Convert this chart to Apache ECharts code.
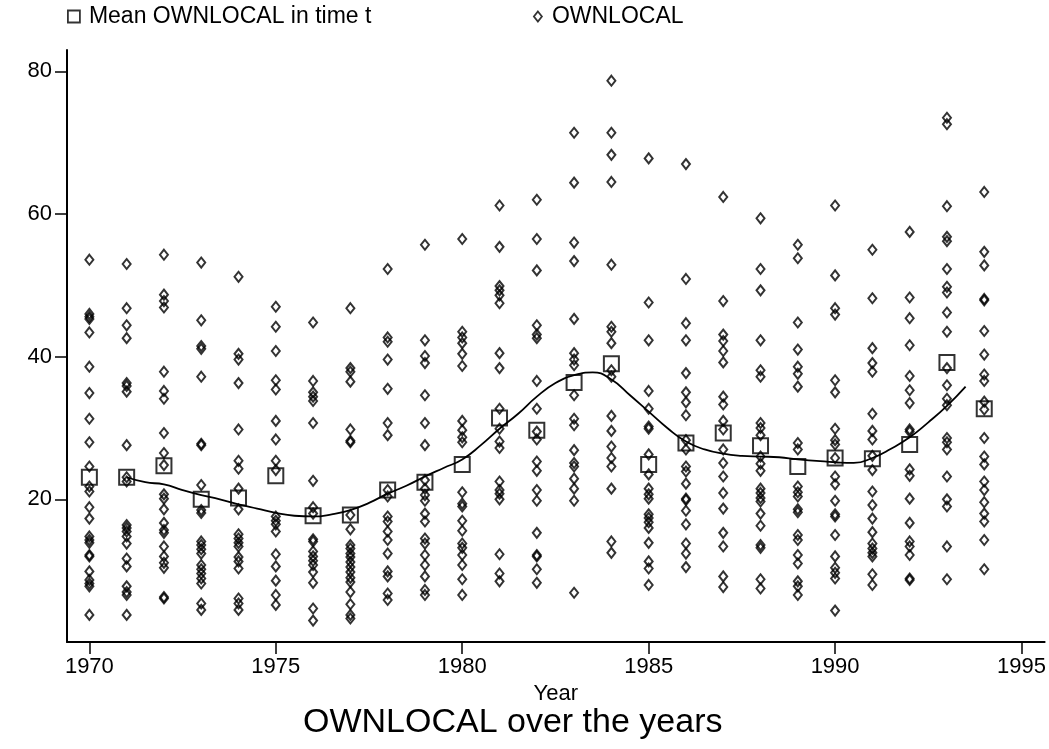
<!DOCTYPE html>
<html>
<head>
<meta charset="utf-8">
<script src="https://cdn.jsdelivr.net/npm/echarts@6/dist/echarts.min.js"></script>
<style>
html,body{margin:0;padding:0;background:#fff;}
#c{width:1049px;height:749px;}
</style>
</head>
<body>
<div id="c"></div>
<script>
// ---- data ----
const years = [1970,1971,1972,1973,1974,1975,1976,1977,1978,1979,1980,1981,1982,1983,1984,1985,1986,1987,1988,1989,1990,1991,1992,1993,1994];
const xTicks = [1970,1975,1980,1985,1990,1995];
const yTicks = [20,40,60,80];

const meanOwnlocal = [23.1,23.1,24.7,20.0,20.2,23.3,17.7,17.8,21.3,22.4,24.9,31.4,29.7,36.4,39.0,24.9,27.9,29.3,27.5,24.6,25.8,25.7,27.7,39.2,32.7];

const y1970 = [53.6,46.0,45.6,45.3,43.4,38.6,34.9,31.3,28.0,24.6,21.8,21.1,18.9,17.3,14.8,14.3,13.9,12.2,12.0,9.9,8.7,8.2,7.8,3.8];
const y1971 = [53.0,46.8,44.4,42.6,36.3,35.9,35.1,27.6,23.1,22.5,16.4,16.0,15.5,14.8,13.8,11.7,10.6,7.8,7.0,6.6,3.8];
const y1972 = [54.3,48.7,47.8,46.9,37.9,35.2,34.1,29.3,26.5,24.8,20.7,20.1,18.6,16.7,15.7,15.3,13.4,12.0,11.1,10.4,6.3,6.1];
const y1973 = [53.2,45.1,41.5,41.1,37.2,27.8,27.6,22.0,18.5,18.1,14.1,13.6,13.0,12.4,10.8,10.2,9.6,8.9,8.2,5.4,4.5];
const y1974 = [51.2,40.4,39.6,36.3,29.8,25.4,24.3,21.5,18.6,15.1,14.5,13.9,13.4,11.9,11.3,10.3,6.1,5.4,4.5];
const y1975 = [47.0,44.2,40.8,36.7,35.4,31.0,28.4,25.4,24.1,17.6,17.0,16.5,15.5,12.3,10.6,8.6,6.6,5.2];
const y1976 = [44.8,36.6,35.0,34.4,33.8,30.7,22.6,18.9,18.0,14.4,14.1,12.7,12.0,11.4,10.8,9.8,8.3,4.7,3.0];
const y1977 = [46.8,38.4,37.9,36.5,29.8,28.2,28.0,17.8,15.8,13.6,13.1,12.4,11.9,11.2,10.5,9.8,9.0,8.4,7.0,5.3,3.8,3.3];
const y1978 = [52.3,42.7,42.1,39.6,35.5,30.7,29.0,21.3,20.4,17.6,16.9,15.5,14.3,12.4,9.9,9.2,6.8,5.9];
const y1979 = [55.7,42.3,40.1,39.1,34.6,30.7,27.6,22.7,21.5,20.6,19.8,18.0,16.9,14.5,13.8,12.2,10.8,9.2,7.3,6.6];
const y1980 = [56.5,43.5,42.7,41.9,40.4,38.7,31.0,29.7,28.7,28.0,21.0,19.4,19.0,17.0,15.6,13.8,13.2,12.2,10.8,8.8,6.6];
const y1981 = [61.2,55.4,49.9,49.3,48.6,47.5,40.5,38.4,32.7,29.9,28.1,27.2,22.5,21.3,20.8,20.0,12.3,9.6,8.5];
const y1982 = [62.0,56.5,52.1,44.4,43.1,42.6,36.6,32.7,29.5,28.4,25.3,24.0,21.3,19.8,15.3,12.2,12.0,10.2,8.3];
const y1983 = [71.4,64.4,56.0,53.4,45.3,40.5,39.6,38.8,34.6,31.3,30.4,26.9,25.1,24.6,22.9,21.5,19.8,6.9];
const y1984 = [78.7,71.4,68.3,64.5,52.9,44.2,43.5,41.9,38.1,37.2,31.7,29.6,27.4,25.8,24.6,21.5,14.1,12.5];
const y1985 = [67.8,47.6,42.3,35.2,32.7,30.2,29.9,26.3,23.5,21.5,20.7,20.1,17.9,17.4,16.8,16.0,13.9,11.3,10.3,8.0];
const y1986 = [67.0,50.9,44.7,42.3,37.7,35.0,33.6,31.8,28.3,27.0,24.6,23.9,22.2,20.1,19.9,18.4,16.5,13.8,12.4,10.5];
const y1987 = [62.4,47.8,43.1,42.2,40.8,39.2,34.4,33.3,31.0,29.8,27.0,25.1,23.2,20.9,18.7,15.3,13.4,9.2,7.7];
const y1988 = [59.4,52.3,49.3,42.3,38.1,37.2,30.7,30.0,29.0,26.0,25.0,24.0,21.5,20.9,20.2,19.7,18.0,16.3,13.6,13.2,8.8,7.5];
const y1989 = [55.7,53.8,44.8,41.0,38.6,37.6,35.8,27.9,27.0,21.8,21.0,20.4,18.6,18.2,15.0,14.3,12.2,11.0,8.5,7.8,6.6];
const y1990 = [61.2,51.4,46.8,45.9,36.7,35.0,29.9,28.3,27.7,25.8,23.2,22.1,19.8,17.9,17.6,15.0,12.0,10.4,9.7,8.9,4.4];
const y1991 = [55.0,48.2,41.2,39.1,37.9,32.0,29.6,28.4,26.1,24.1,21.1,19.2,17.3,15.4,13.8,13.1,12.5,12.0,9.5,8.0];
const y1992 = [57.5,48.3,45.4,41.6,37.3,35.3,33.5,29.8,29.5,24.2,23.3,20.1,16.7,14.1,13.4,12.2,8.9,8.7];
const y1993 = [73.5,72.6,61.1,56.8,56.2,52.3,49.8,49.0,46.2,43.5,38.4,36.0,34.1,33.2,28.6,28.0,27.0,23.2,20.0,19.0,13.4,8.8];
const y1994 = [63.1,54.7,52.8,48.1,47.9,43.6,40.3,37.5,36.6,33.7,32.6,28.6,26.0,24.9,22.5,21.3,19.6,18.0,16.9,14.3,10.2];
const ownlocalByYear = [y1970,y1971,y1972,y1973,y1974,y1975,y1976,y1977,y1978,y1979,y1980,y1981,y1982,y1983,y1984,y1985,y1986,y1987,y1988,y1989,y1990,y1991,y1992,y1993,y1994];

// smoothed curve of the mean, read at half-year steps
const curveYears = [1971,1971.5,1972,1972.5,1973,1973.5,1974,1974.5,1975,1975.5,1976,1976.5,1977,1977.5,1978,1978.5,1979,1979.5,1980,1980.5,1981,1981.5,1982,1982.5,1983,1983.5,1984,1984.5,1985,1985.5,1986,1986.5,1987,1987.5,1988,1988.5,1989,1989.5,1990,1990.5,1991,1991.5,1992,1992.5,1993,1993.5];
const curveValues = [23.1,22.4,22.1,21.3,20.6,20.0,19.3,18.7,18.1,17.7,17.6,17.9,18.5,19.5,20.8,21.9,23.2,24.4,25.6,27.6,29.9,32.0,34.4,36.3,37.4,37.8,36.8,34.6,32.3,30.0,28.1,27.0,26.4,26.1,26.0,25.9,25.6,25.4,25.2,25.1,25.8,27.1,28.7,30.8,33.1,35.8];

// ---- build series data ----
const scatterData = [];
years.forEach((yr, i) => ownlocalByYear[i].forEach(v => scatterData.push([yr, v])));
const meanData = years.map((yr, i) => [yr, meanOwnlocal[i]]);
const curveData = curveYears.map((yr, i) => [yr, curveValues[i]]);

const FONT = 'Liberation Sans, Arial, Helvetica, sans-serif';
const chart = echarts.init(document.getElementById('c'), null, {renderer: 'canvas'});
chart.setOption({
  backgroundColor: '#fff',
  animation: false,
  textStyle: {fontFamily: FONT, color: '#000'},
  title: {
    text: 'OWNLOCAL over the years',
    left: 298, bottom: 4,
    textStyle: {fontFamily: FONT, fontSize: 34, fontWeight: 'normal', color: '#000'}
  },
  legend: [
    {
      data: ['Mean OWNLOCAL in time t'],
      left: 62, top: 0, itemWidth: 12, itemHeight: 12, itemGap: 8,
      icon: 'rect',
      itemStyle: {color: 'rgba(0,0,0,0)', borderColor: '#000', borderWidth: 1.8},
      textStyle: {fontFamily: FONT, fontSize: 23, color: '#000', padding: [0, 0, 0, 4]}
    },
    {
      data: ['OWNLOCAL'],
      left: 528, top: 0, itemWidth: 8, itemHeight: 10,
      icon: 'diamond',
      itemStyle: {color: 'rgba(0,0,0,0)', borderColor: '#000', borderWidth: 1.8},
      textStyle: {fontFamily: FONT, fontSize: 23, color: '#000', padding: [0, 0, 0, 5]}
    }
  ],
  grid: {left: 67, right: 4, top: 50, bottom: 107, containLabel: false},
  xAxis: {
    type: 'value',
    min: 1969.4, max: 1995.62,
    name: 'Year', nameLocation: 'middle', nameGap: 41,
    nameTextStyle: {fontFamily: FONT, fontSize: 22, color: '#000'},
    splitLine: {show: false},
    axisLine: {show: true, onZero: false, lineStyle: {color: '#000', width: 2}},
    axisTick: {show: true, length: 12, lineStyle: {color: '#000', width: 1.5}, customValues: xTicks},
    axisLabel: {fontFamily: FONT, fontSize: 22, color: '#000', margin: 14, customValues: xTicks, formatter: v => String(v)}
  },
  yAxis: {
    type: 'value',
    min: 0, max: 83,
    splitLine: {show: false},
    axisLine: {show: true, lineStyle: {color: '#000', width: 2}},
    axisTick: {show: true, length: 12, lineStyle: {color: '#000', width: 1.5}, customValues: yTicks},
    axisLabel: {fontFamily: FONT, fontSize: 22, color: '#000', margin: 15, customValues: yTicks}
  },
  series: [
    {
      name: 'OWNLOCAL', type: 'scatter', data: scatterData,
      symbol: 'diamond', symbolSize: [8, 10],
      itemStyle: {color: 'rgba(0,0,0,0)', borderColor: '#000', borderWidth: 2},
      z: 3
    },
    {
      name: 'Mean OWNLOCAL in time t', type: 'scatter', data: meanData,
      symbol: 'rect', symbolSize: 15,
      itemStyle: {color: 'rgba(0,0,0,0)', borderColor: '#000', borderWidth: 2},
      z: 4
    },
    {
      name: 'curve', type: 'line', data: curveData, smooth: true,
      showSymbol: false, symbol: 'none',
      lineStyle: {color: '#000', width: 1.8},
      z: 2
    }
  ]
});
</script>
</body>
</html>
